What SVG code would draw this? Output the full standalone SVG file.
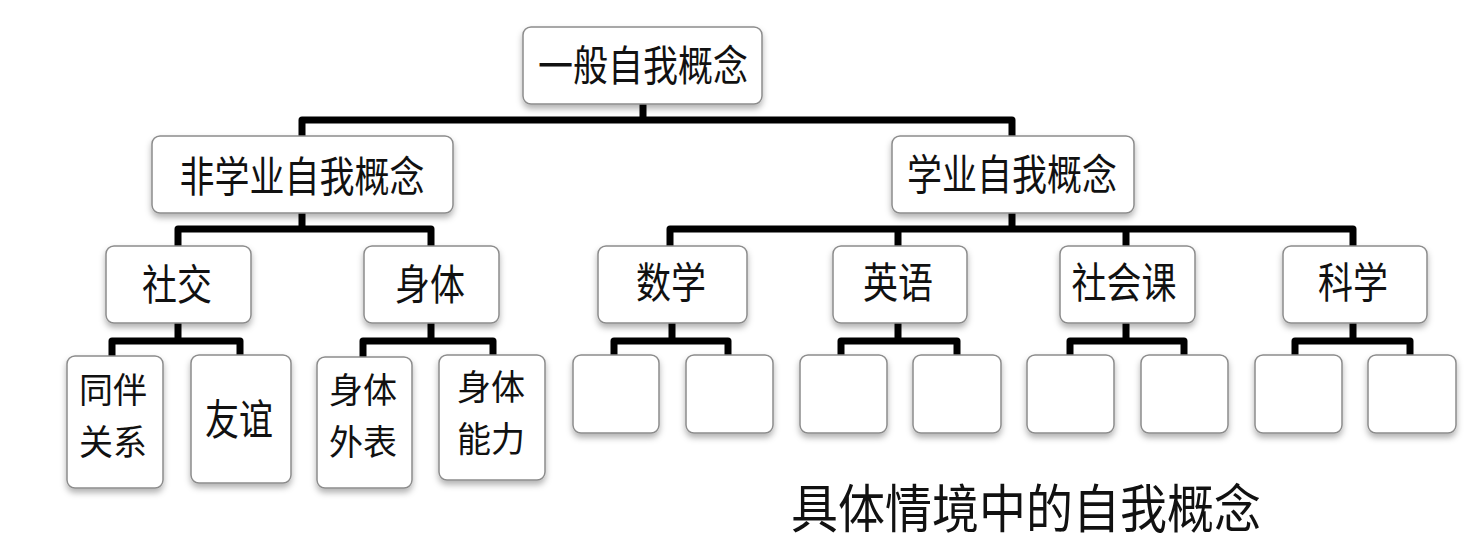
<svg xmlns="http://www.w3.org/2000/svg" width="1483" height="547" viewBox="0 0 1483 547">
<defs>
<filter id="sh" x="-20%" y="-20%" width="140%" height="150%">
<feDropShadow dx="0" dy="4" stdDeviation="3" flood-color="#000" flood-opacity="0.3"/>
</filter>
<style>
.box{fill:#fff;stroke:#8c8c8c;stroke-width:1.5;filter:url(#sh)}
.t{font-family:"Noto Sans CJK SC","Noto Sans CJK TC",sans-serif;font-size:35px;fill:#111;text-anchor:middle;dominant-baseline:central}
.s{font-size:34px}
.big{font-size:47px}
.conn{fill:none;stroke:#000;stroke-width:7;stroke-linejoin:round;stroke-linecap:butt}
</style>
</defs>
<rect width="1483" height="547" fill="#fff"/>
<g id="connectors" class="conn">
<path d="M643,104 V120 M302,136 V120 H1012 V136"/>
<path d="M302,213 V229 M178,246 V229 H431 V246"/>
<path d="M178,323 V341 M112,356 V341 H240 V356"/>
<path d="M431,323 V341 M363,357 V341 H493 V356"/>
<path d="M1012,213 V229 M670,246 V229 H1353 V246 M898,229 V246 M1126,229 V246"/>
<path d="M672,323 V341 M614,355 V341 H728 V355"/>
<path d="M898,323 V341 M841,355 V341 H957 V355"/>
<path d="M1126,323 V341 M1070,355 V341 H1184 V355"/>
<path d="M1353,323 V341 M1295,355 V341 H1410 V355"/>
</g>
<g id="n-general"><rect class="box" x="523" y="27" width="239" height="77" rx="8"/><text class="t" transform="translate(643 63) scale(1 1.2)">一般自我概念</text></g>
<g id="n-nonacademic"><rect class="box" x="152" y="136" width="301" height="77" rx="8"/><text class="t" transform="translate(302 174) scale(1 1.2)">非学业自我概念</text></g>
<g id="n-academic"><rect class="box" x="892" y="136" width="242" height="77" rx="8"/><text class="t" transform="translate(1012 172) scale(1 1.2)">学业自我概念</text></g>
<g id="n-social"><rect class="box" x="106" y="246" width="145" height="77" rx="8"/><text class="t" transform="translate(177 282) scale(1 1.2)">社交</text></g>
<g id="n-body"><rect class="box" x="364" y="246" width="135" height="77" rx="8"/><text class="t" transform="translate(430 282) scale(1 1.2)">身体</text></g>
<g id="n-math"><rect class="box" x="598" y="246" width="149" height="77" rx="8"/><text class="t" transform="translate(671 280) scale(1 1.2)">数学</text></g>
<g id="n-english"><rect class="box" x="833" y="246" width="134" height="77" rx="8"/><text class="t" transform="translate(898 280) scale(1 1.2)">英语</text></g>
<g id="n-socialstudies"><rect class="box" x="1060" y="246" width="135" height="77" rx="8"/><text class="t" transform="translate(1124 280) scale(1 1.2)">社会课</text></g>
<g id="n-science"><rect class="box" x="1283" y="246" width="144" height="77" rx="8"/><text class="t" transform="translate(1353 280) scale(1 1.2)">科学</text></g>
<g id="n-peer"><rect class="box" x="67" y="356" width="96" height="132" rx="8"/><text class="t s" transform="translate(113 414) scale(1 1.03)"><tspan x="0" y="-25">同伴</tspan><tspan x="0" y="25">关系</tspan></text></g>
<g id="n-friend"><rect class="box" x="191" y="355" width="100" height="128" rx="8"/><text class="t s" transform="translate(239 416) scale(1 1.25)">友谊</text></g>
<g id="n-appearance"><rect class="box" x="317" y="357" width="95" height="131" rx="8"/><text class="t s" transform="translate(363 414) scale(1 1.03)"><tspan x="0" y="-25">身体</tspan><tspan x="0" y="25">外表</tspan></text></g>
<g id="n-ability"><rect class="box" x="439" y="355" width="106" height="125" rx="8"/><text class="t s" transform="translate(491 411) scale(1 1.03)"><tspan x="0" y="-25">身体</tspan><tspan x="0" y="25">能力</tspan></text></g>
<g id="n-m1"><rect class="box" x="573" y="355" width="86" height="78" rx="8"/></g>
<g id="n-m2"><rect class="box" x="686" y="355" width="87" height="78" rx="8"/></g>
<g id="n-e1"><rect class="box" x="800" y="355" width="87" height="78" rx="8"/></g>
<g id="n-e2"><rect class="box" x="913" y="355" width="88" height="78" rx="8"/></g>
<g id="n-s1"><rect class="box" x="1027" y="355" width="87" height="78" rx="8"/></g>
<g id="n-s2"><rect class="box" x="1141" y="355" width="87" height="78" rx="8"/></g>
<g id="n-c1"><rect class="box" x="1255" y="355" width="87" height="78" rx="8"/></g>
<g id="n-c2"><rect class="box" x="1368" y="355" width="88" height="78" rx="8"/></g>
<text class="t big" transform="translate(1026 505) scale(1 1.12)">具体情境中的自我概念</text>
</svg>
